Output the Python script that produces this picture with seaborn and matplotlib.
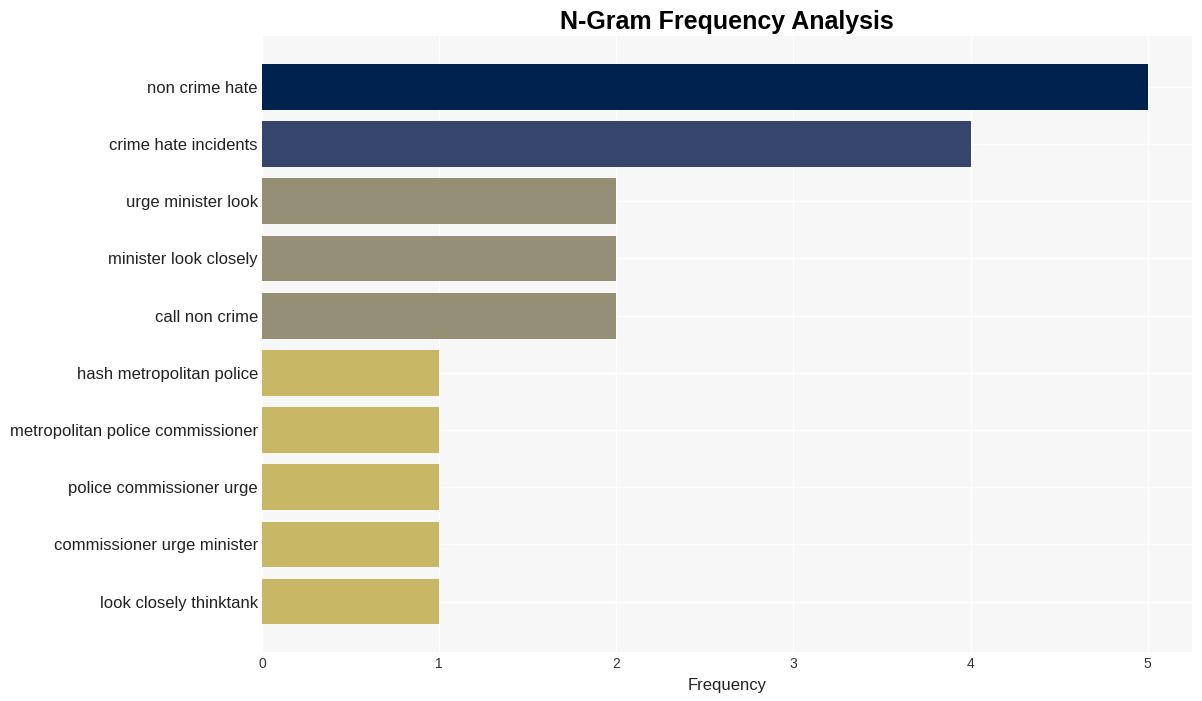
import matplotlib
matplotlib.use("Agg")
import matplotlib.pyplot as plt
import seaborn as sns
import pandas as pd

ngrams = ["non crime hate", "crime hate incidents", "urge minister look",
          "minister look closely", "call non crime", "hash metropolitan police",
          "metropolitan police commissioner", "police commissioner urge",
          "commissioner urge minister", "look closely thinktank"]
freqs = [5, 4, 2, 2, 2, 1, 1, 1, 1, 1]
bar_colors = ["#00224e", "#35456c", "#958f76", "#958f76", "#958f76",
              "#c8b866", "#c8b866", "#c8b866", "#c8b866", "#c8b866"]

df = pd.DataFrame({"ngram": ngrams, "freq": freqs})

sns.set_theme(style="whitegrid")
plt.rcParams['font.family'] = ['Liberation Sans', 'DejaVu Sans']

fig = plt.figure(figsize=(12.02, 7.01), dpi=100)
ax = fig.add_axes([0.218, 0.07, 0.7737, 0.8786])
ax.set_facecolor("#f7f7f7")

sns.barplot(data=df, x="freq", y="ngram", hue="ngram", palette=bar_colors,
            legend=False, ax=ax, width=0.8, saturation=1, linewidth=0)

ax.set_xlim(0, 5.25)
ax.set_ylim(9.88, -0.89)
ax.set_xticks([0, 1, 2, 3, 4, 5])
ax.grid(True, color="white", linewidth=1)
for s in ax.spines.values():
    s.set_visible(False)
ax.tick_params(axis="x", labelsize=10, colors="#333333", length=0, pad=4)
ax.tick_params(axis="y", labelsize=12, colors="#222222", length=0, pad=3)
ax.set_xlabel("Frequency", fontsize=12, color="#222222", labelpad=5)
ax.set_ylabel("")
fig.text(0.605, 0.969, "N-Gram Frequency Analysis", fontsize=18,
         fontweight="bold", ha="center", va="center", color="black")

fig.savefig("out.png", dpi=100, facecolor="white")
